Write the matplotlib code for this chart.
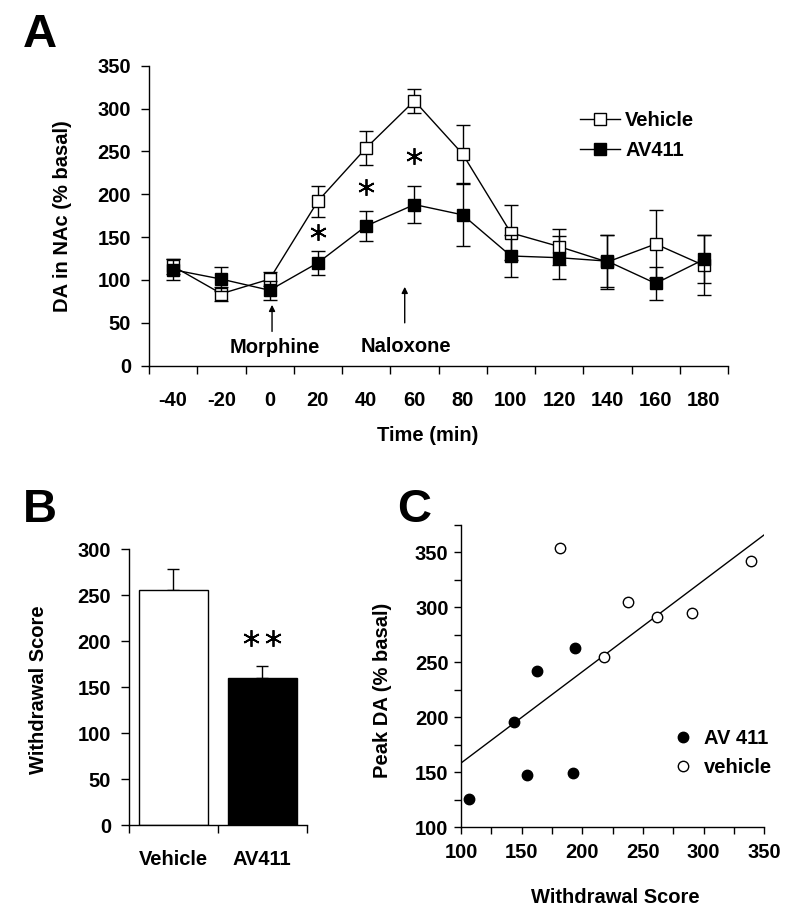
import numpy as np
import matplotlib
matplotlib.use("Agg")
import matplotlib.pyplot as plt
from matplotlib.lines import Line2D

plt.rcParams['font.family'] = ['Liberation Sans', 'DejaVu Sans']
plt.rcParams['font.weight'] = 'bold'

# ---------------- Data ----------------
# Panel A: time course
time_min = [-40, -20, 0, 20, 40, 60, 80, 100, 120, 140, 160, 180]
vehicle_mean = [116, 84, 101, 192, 254, 309, 247, 155, 139, 121, 142, 117]
vehicle_err = [9, 8, 8, 18, 20, 14, 34, 32, 21, 32, 40, 35]
av411_mean = [112, 101, 88, 120, 163, 188, 176, 128, 126, 122, 96, 124]
av411_err = [12, 14, 11, 14, 18, 22, 36, 24, 25, 30, 19, 28]
sig_times = [20, 40, 60]
sig_y = [156, 209, 245]
morphine_time = 1
naloxone_time = 56

# Panel B: withdrawal score
groups = ['Vehicle', 'AV411']
score_mean = [255, 160]
score_err = [23, 13]

# Panel C: correlation
av_score = [106.6, 143.7, 154.4, 162.7, 192.0, 194.0]
av_peak = [126, 196, 148, 242, 149, 263]
veh_score = [181.3, 217.9, 237.7, 261.8, 290.7, 338.8]
veh_peak = [354, 255, 305, 291, 295, 342]

FS = 14.5
W, H = 800, 922
fig = plt.figure(figsize=(W / 100, H / 100), dpi=100)

def ax_px(l, r, t, b):
    return fig.add_axes([l / W, 1 - b / H, (r - l) / W, (b - t) / H])

def style(ax):
    for s in ['top', 'right']:
        ax.spines[s].set_visible(False)
    for s in ['left', 'bottom']:
        ax.spines[s].set_linewidth(1.0)

# ---------------- Panel A ----------------
axA = ax_px(149, 728, 65.7, 365.7)
style(axA)
axA.errorbar(time_min, vehicle_mean, yerr=vehicle_err, color='black', lw=1.0,
             marker='s', ms=8.5, mfc='white', mec='black', mew=1.0,
             capsize=5, elinewidth=1.0, capthick=1.0, zorder=3)
axA.errorbar(time_min, av411_mean, yerr=av411_err, color='black', lw=1.0,
             marker='s', ms=8.5, mfc='black', mec='black', mew=1.0,
             capsize=5, elinewidth=1.0, capthick=1.0, zorder=4)
axA.plot(sig_times, sig_y, linestyle='none', marker=(6, 2, 0), ms=12,
         mew=1.3, color='black')
axA.set_xlim(-50, 190)
axA.set_ylim(0, 350)
axA.set_yticks(np.arange(0, 351, 50))
axA.set_xticks(np.arange(-50, 191, 20))
axA.set_xticklabels([])
axA.set_xticks(time_min, minor=True)
axA.set_xticklabels([str(t) for t in time_min], minor=True)
axA.tick_params(axis='x', which='major', length=6, width=1.0, direction='out')
axA.tick_params(axis='x', which='minor', length=0, pad=18, labelsize=FS)
axA.tick_params(axis='y', length=6, width=1.0, direction='out', pad=7, labelsize=FS)
for lab in axA.get_xticklabels(minor=True) + axA.get_yticklabels():
    lab.set_fontweight('bold')
axA.set_ylabel('DA in NAc (% basal)', fontsize=FS, fontweight='bold')
axA.yaxis.set_label_coords(-0.133, 0.5)
axA.set_xlabel('Time (min)', fontsize=FS, fontweight='bold')
axA.xaxis.set_label_coords(0.482, -0.20)

axA.annotate('', xy=(morphine_time, 71), xytext=(morphine_time, 40),
             arrowprops=dict(arrowstyle='-|>', lw=1.0, color='black', mutation_scale=9,
                             shrinkA=0, shrinkB=0))
axA.annotate('', xy=(naloxone_time, 92), xytext=(naloxone_time, 50),
             arrowprops=dict(arrowstyle='-|>', lw=1.0, color='black', mutation_scale=9,
                             shrinkA=0, shrinkB=0))
axA.text(2.3, 21, 'Morphine', ha='center', va='center', fontsize=FS, fontweight='bold')
axA.text(56.3, 22, 'Naloxone', ha='center', va='center', fontsize=FS, fontweight='bold')

hA = [Line2D([], [], color='black', lw=1.0, marker='s', ms=8.5, mfc='white', mec='black'),
      Line2D([], [], color='black', lw=1.0, marker='s', ms=8.5, mfc='black', mec='black')]
legA = axA.legend(hA, ['Vehicle', 'AV411'], loc='upper left', bbox_to_anchor=(0.744, 0.85),
                  frameon=False, fontsize=FS, handlelength=2.0, handletextpad=0.25,
                  borderpad=0, borderaxespad=0, labelspacing=0.55)
for t in legA.get_texts():
    t.set_fontweight('bold')

fig.text(23 / W, 1 - 47 / H, 'A', fontsize=34, fontweight='bold', va='baseline', ha='left')

# ---------------- Panel B ----------------
axB = ax_px(129, 306.7, 549, 825)
style(axB)
xpos = np.arange(len(groups))
axB.bar(xpos, score_mean, width=0.78, color=['white', 'black'], edgecolor='black',
        linewidth=1.0, zorder=2)
axB.errorbar(xpos, score_mean, yerr=[[0, 0], score_err], fmt='none', ecolor='black',
             elinewidth=1.0, capsize=4, capthick=1.0, zorder=1)
axB.plot([1 - 0.124, 1 + 0.124], [203, 203], linestyle='none', marker=(6, 2, 0),
         ms=12, mew=1.3, color='black')
axB.set_xlim(-0.5, 1.5)
axB.set_ylim(0, 300)
axB.set_yticks(np.arange(0, 301, 50))
axB.set_xticks([-0.5, 0.5, 1.5])
axB.set_xticklabels([])
axB.set_xticks(xpos, minor=True)
axB.set_xticklabels(groups, minor=True)
axB.tick_params(axis='x', which='major', length=6, width=1.0, direction='out')
axB.tick_params(axis='x', which='minor', length=0, pad=18, labelsize=FS)
axB.tick_params(axis='y', length=6, width=1.0, direction='out', pad=7, labelsize=FS)
for lab in axB.get_xticklabels(minor=True) + axB.get_yticklabels():
    lab.set_fontweight('bold')
axB.set_ylabel('Withdrawal Score', fontsize=FS, fontweight='bold')
axB.yaxis.set_label_coords(-0.456, 0.49)

fig.text(23 / W, 1 - 522 / H, 'B', fontsize=34, fontweight='bold', va='baseline', ha='left')

# ---------------- Panel C ----------------
axC = ax_px(461, 764.3, 525, 827.3)
style(axC)
all_x = np.array(av_score + veh_score)
all_y = np.array(av_peak + veh_peak)
slope, intercept = np.polyfit(all_x, all_y, 1)
xl = np.array([100, 350])
axC.plot(xl, slope * xl + intercept, color='black', lw=1.0, zorder=1)
axC.plot(av_score, av_peak, linestyle='none', marker='o', ms=7.5, mfc='black',
         mec='black', mew=1.0, label='AV 411', zorder=3)
axC.plot(veh_score, veh_peak, linestyle='none', marker='o', ms=7.5, mfc='white',
         mec='black', mew=1.0, label='vehicle', zorder=3)
axC.set_xlim(100, 350)
axC.set_ylim(100, 375)
axC.set_xticks(np.arange(100, 351, 50))
axC.set_xticks(np.arange(100, 351, 25), minor=True)
axC.set_yticks(np.arange(100, 351, 50))
axC.set_yticks(np.arange(100, 376, 25), minor=True)
axC.tick_params(axis='both', which='both', length=5, width=1.0, direction='out')
axC.tick_params(axis='x', which='major', pad=6, labelsize=FS)
axC.tick_params(axis='y', which='major', pad=4, labelsize=FS)
for lab in axC.get_xticklabels() + axC.get_yticklabels():
    lab.set_fontweight('bold')
axC.set_ylabel('Peak DA (% basal)', fontsize=FS, fontweight='bold')
axC.yaxis.set_label_coords(-0.2285, 0.4525)
axC.set_xlabel('Withdrawal Score', fontsize=FS, fontweight='bold')
axC.xaxis.set_label_coords(0.508, -0.20)

legC = axC.legend(loc='upper left', bbox_to_anchor=(0.70, 0.325), frameon=False,
                  fontsize=FS, handlelength=1.0, handletextpad=0.5, borderpad=0,
                  borderaxespad=0, labelspacing=0.5, numpoints=1)
for t in legC.get_texts():
    t.set_fontweight('bold')

fig.text(397 / W, 1 - 522 / H, 'C', fontsize=34, fontweight='bold', va='baseline', ha='left')

fig.savefig('out.png', dpi=100)
